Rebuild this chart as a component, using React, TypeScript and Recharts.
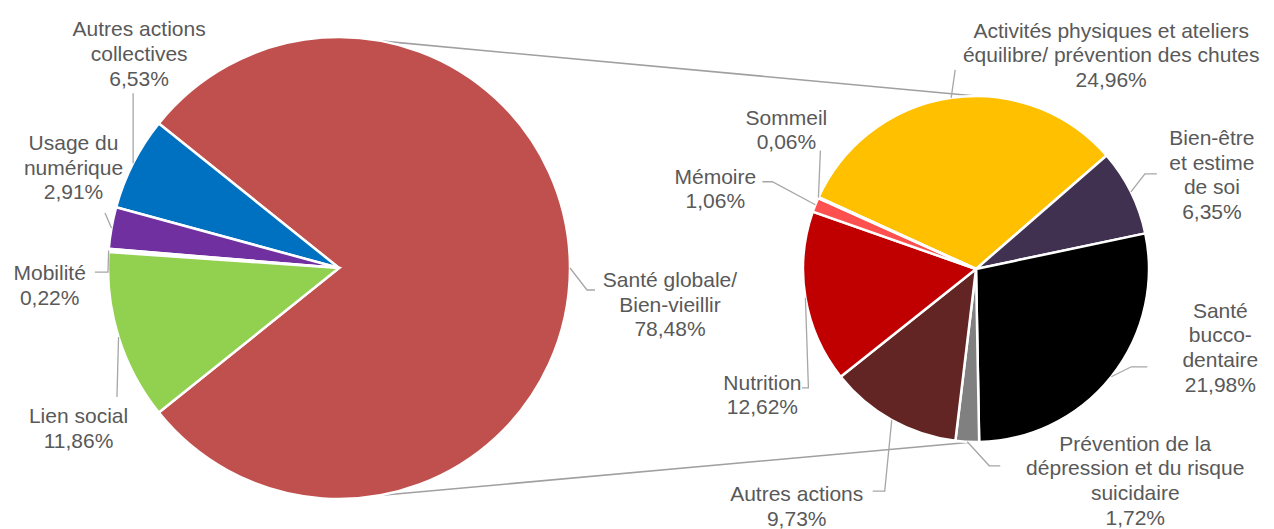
import React from 'react';
import { PieChart, Pie, Cell } from 'recharts';

// ---------- data ----------
const mainCategories = [
  'Santé globale/\nBien-vieillir',
  'Autres actions\ncollectives',
  'Usage du\nnumérique',
  'Mobilité',
  'Lien social',
];
const mainValues = [78.48, 6.53, 2.91, 0.22, 11.86];

const detailCategories = [
  'Activités physiques et ateliers\néquilibre/ prévention des chutes',
  'Bien-être\net estime\nde soi',
  'Santé\nbucco-\ndentaire',
  'Prévention de la\ndépression et du risque\nsuicidaire',
  'Autres actions',
  'Nutrition',
  'Mémoire',
  'Sommeil',
];
const detailValues = [24.96, 6.35, 21.98, 1.72, 9.73, 12.62, 1.06, 0.06];

// ---------- styles ----------
const mainColors = ['#C0504D', '#0070C0', '#7030A0', '#FFFFFF', '#92D050'];
const detailColors = ['#FFC000', '#403151', '#000000', '#808080', '#632523', '#C00000', '#FF5050', '#FFFFFF'];

const W = 1274;
const H = 529;
const LEFT = { cx: 339, cy: 268, r: 231 };
const RIGHT = { cx: 976, cy: 269, r: 173 };
const FONT = 21;
const LINE_H = 24.7;
const TEXT_COLOR = '#595959';
const LEADER_COLOR = '#A6A6A6';

const mainSpan = (mainValues[0] / mainValues.reduce((a, b) => a + b, 0)) * 360;
const LEFT_START = -mainSpan / 2;
const RIGHT_START = 155.5;

// label layout: offsets relative to the point on the arc at the slice's mid angle
type LabelLayout = { dx: number; dy: number; leader: number[][] };
const mainLabelLayout: LabelLayout[] = [
  { dx: 100, dy: 19, leader: [[17, 22], [25, 22]] },
  { dx: 6, dy: -127, leader: [[0, -70]] },
  { dx: -38, dy: -78, leader: [[-6.5, -15]] },
  { dx: -59, dy: 30, leader: [[-0.7, 21.6], [-13.7, 21.6]] },
  { dx: -40, dy: 86, leader: [[-1.6, 60]] },
];
const detailLabelLayout: LabelLayout[] = [
  { dx: 160, dy: -60, leader: [[4, -28]] },
  { dx: 81, dy: -47, leader: [[14, -18], [26, -18]] },
  { dx: 109, dy: -59, leader: [[20, -10], [36, -10]] },
  { dx: 168, dy: 9, leader: [[22, 24], [33, 24]] },
  { dx: -95, dy: 81, leader: [[-7, 71], [-19, 71]] },
  { dx: -43, dy: 92, leader: [[3, 90], [-3.5, 90]] },
  { dx: -100, dy: -21, leader: [[-43, -23], [-53, -23]] },
  { dx: -32, dy: -73, leader: [[2, -47]] },
];

const RAD = Math.PI / 180;
const polar = (cx: number, cy: number, r: number, a: number) => [
  cx + r * Math.cos(-a * RAD),
  cy + r * Math.sin(-a * RAD),
];
const fmt = (v: number) => v.toFixed(2).replace('.', ',') + '%';

const mainData = mainCategories.map((name, i) => ({ name, value: mainValues[i] }));
const detailData = detailCategories.map((name, i) => ({ name, value: detailValues[i] }));

function makeLabel(layout: LabelLayout[]) {
  return (props: any) => {
    const { cx, cy, midAngle, outerRadius, index, payload } = props;
    const L = layout[index];
    if (!L) return null;
    const [px, py] = polar(cx, cy, outerRadius, midAngle);
    const name = (payload && payload.name) || props.name;
    const value = payload && payload.value != null ? payload.value : props.value;
    const lines = [...String(name).split('\n'), fmt(Number(value))];
    const pts = [[px, py], ...L.leader.map(([a, b]) => [px + a, py + b])];
    const tx = px + L.dx;
    return (
      <g>
        <polyline
          points={pts.map((p) => p.join(',')).join(' ')}
          fill="none"
          stroke={LEADER_COLOR}
          strokeWidth={1.3}
        />
        <text
          x={tx}
          y={py + L.dy}
          textAnchor="middle"
          fill={TEXT_COLOR}
          fontSize={FONT}
          fontFamily="'Liberation Sans', Arial, sans-serif"
        >
          {lines.map((t, i) => (
            <tspan key={i} x={tx} dy={i === 0 ? 0 : LINE_H}>
              {t}
            </tspan>
          ))}
        </text>
      </g>
    );
  };
}

// connector ("series") lines between the two pies
const CONNECT = { leftTop: 79.1, rightTop: 90, leftBottom: -80, rightBottom: -91 };

export default function App() {
  const lt = polar(LEFT.cx, LEFT.cy, LEFT.r, CONNECT.leftTop);
  const rt = polar(RIGHT.cx, RIGHT.cy, RIGHT.r, CONNECT.rightTop);
  const lb = polar(LEFT.cx, LEFT.cy, LEFT.r, CONNECT.leftBottom);
  const rb = polar(RIGHT.cx, RIGHT.cy, RIGHT.r, CONNECT.rightBottom);
  return (
    <div style={{ position: 'absolute', left: 0, top: 0, width: W, height: H, background: '#fff' }}>
      <svg width={W} height={H} style={{ position: 'absolute', left: 0, top: 0 }}>
        <line x1={lt[0]} y1={lt[1]} x2={rt[0]} y2={rt[1]} stroke="#A0A0A0" strokeWidth={1.6} />
        <line x1={lb[0]} y1={lb[1]} x2={rb[0]} y2={rb[1]} stroke="#A0A0A0" strokeWidth={1.6} />
      </svg>
      <div style={{ position: 'absolute', left: 0, top: 0 }}>
        <PieChart width={W} height={H} margin={{ top: 0, right: 0, bottom: 0, left: 0 }}>
          <Pie
            data={mainData}
            dataKey="value"
            nameKey="name"
            cx={LEFT.cx}
            cy={LEFT.cy}
            outerRadius={LEFT.r}
            innerRadius={0}
            startAngle={LEFT_START}
            endAngle={LEFT_START + 360}
            stroke="#FFFFFF"
            strokeWidth={2.5}
            isAnimationActive={false}
            labelLine={false}
            label={makeLabel(mainLabelLayout)}
          >
            {mainData.map((d, i) => (
              <Cell key={d.name} fill={mainColors[i]} />
            ))}
          </Pie>
          <Pie
            data={detailData}
            dataKey="value"
            nameKey="name"
            cx={RIGHT.cx}
            cy={RIGHT.cy}
            outerRadius={RIGHT.r}
            innerRadius={0}
            startAngle={RIGHT_START}
            endAngle={RIGHT_START - 360}
            stroke="#FFFFFF"
            strokeWidth={2.5}
            isAnimationActive={false}
            labelLine={false}
            label={makeLabel(detailLabelLayout)}
          >
            {detailData.map((d, i) => (
              <Cell key={d.name} fill={detailColors[i]} />
            ))}
          </Pie>
        </PieChart>
      </div>
    </div>
  );
}
